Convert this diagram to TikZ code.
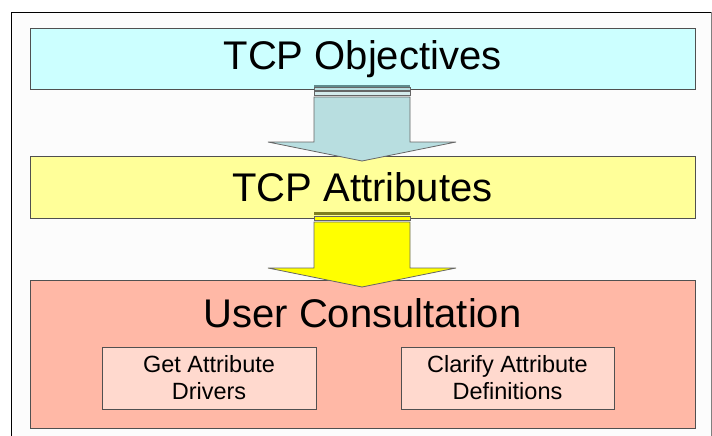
\documentclass[tikz,border=0pt]{standalone}
\usepackage{fontspec}
\setmainfont{Liberation Sans}
\definecolor{objfill}{HTML}{CCFFFF}
\definecolor{attfill}{HTML}{FFFF99}
\definecolor{usrfill}{HTML}{FFB8A6}
\definecolor{subfill}{HTML}{FFD9CE}
\definecolor{arrowA}{HTML}{B8DEE0}
\definecolor{arrowAdark}{HTML}{5F8C8E}
\definecolor{arrowB}{HTML}{FFFF00}
\definecolor{arrowBdark}{HTML}{7F7F20}
\definecolor{edge}{HTML}{505050}
\begin{document}
\begin{tikzpicture}[x=1pt,y=-1pt,
  bigbox/.style={draw=edge,line width=1pt,minimum width=665pt,inner sep=0pt},
  subbox/.style={draw=edge,line width=0.8pt,fill=subfill,minimum height=62pt,inner sep=0pt,align=center,
     font=\fontsize{23.5}{27}\selectfont},
  bigtext/.style={font=\fontsize{40}{48}\selectfont},
  blockarrow/.style={draw=gray!80!black,line width=0.8pt},
]
\useasboundingbox (0,0) rectangle (712,436);
\fill[white] (0,0) rectangle (712,436);
\fill[black!1] (11.5,12.5) rectangle (711,436);
\draw[line width=1.4pt] (11.5,436) -- (11.5,12.5) -- (711,12.5);
\draw[gray,line width=0.8pt] (711,12.5) -- (711,436);

% boxes
\node[bigbox,fill=objfill,minimum height=60pt,bigtext] (obj) at (362.5,59) {TCP Objectives};
\node[bigbox,fill=attfill,minimum height=62pt,bigtext] (att) at (362.5,187) {TCP Attributes};
\node[bigbox,fill=usrfill,minimum height=148pt] (usr) at (362.5,354) {};
\node[bigtext] (usrtitle) at (362.5,313) {User Consultation};
\node[subbox,minimum width=214pt] (drv) at (209,378) {Get Attribute\\Drivers};
\node[subbox,minimum width=213pt] (def) at (507.5,378) {Clarify Attribute\\Definitions};

% block arrow 1 (objectives -> attributes)
\fill[arrowAdark] (314,85) rectangle (410,87);
\draw[blockarrow,fill=arrowA] (314,87) rectangle (410,90);
\draw[blockarrow,fill=arrowA!60!white] (314,91) rectangle (410,95);
\draw[blockarrow,fill=arrowA] (314,97) -- (410,97) -- (410,142) -- (456,142) -- (362,161)
  -- (268,142) -- (314,142) -- cycle;

% block arrow 2 (attributes -> consultation)
\fill[arrowBdark] (314,212) rectangle (410,215);
\draw[blockarrow,fill=arrowB] (314,216) rectangle (410,220);
\draw[blockarrow,fill=arrowB] (314,222) -- (410,222) -- (410,268) -- (456,268) -- (362,287)
  -- (268,268) -- (314,268) -- cycle;
\end{tikzpicture}
\end{document}
